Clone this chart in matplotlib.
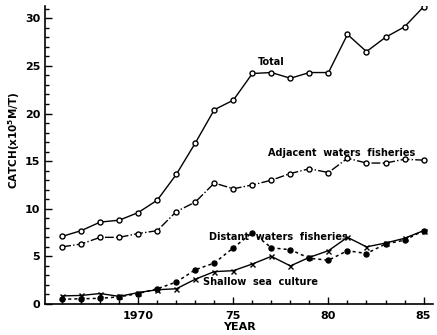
import matplotlib
matplotlib.use("Agg")
import matplotlib.pyplot as plt
from matplotlib.ticker import MultipleLocator

years = list(range(1966, 1986))

total = [7.1, 7.7, 8.6, 8.8, 9.6, 10.9, 13.6, 16.9, 20.4, 21.4, 24.2, 24.3,
         23.7, 24.3, 24.3, 28.3, 26.5, 28.0, 29.1, 31.2]
adjacent = [6.0, 6.3, 7.0, 7.0, 7.4, 7.7, 9.7, 10.7, 12.7, 12.1, 12.5, 13.0,
            13.7, 14.2, 13.8, 15.3, 14.8, 14.8, 15.2, 15.1]
distant = [0.5, 0.55, 0.6, 0.75, 1.1, 1.6, 2.3, 3.6, 4.3, 5.9, 7.5, 5.9,
           5.7, 4.8, 4.6, 5.6, 5.3, 6.3, 6.7, 7.7]
shallow = [0.85, 0.9, 1.1, 0.8, 1.2, 1.5, 1.6, 2.6, 3.4, 3.5, 4.2, 5.0,
           4.0, 4.9, 5.6, 7.0, 6.0, 6.4, 6.9, 7.7]

plt.rcParams['font.family'] = 'DejaVu Sans'
plt.rcParams['font.weight'] = 'bold'

fig = plt.figure(figsize=(4.37, 3.35), dpi=100)
ax = fig.add_axes([0.103, 0.0925, 0.888, 0.89])

ax.plot(years, total, '-', color='k', lw=1.0, marker='o', ms=3.6,
        mfc='white', mec='k', mew=1.0)
ax.plot(years, adjacent, '-.', color='k', lw=1.0, marker='o', ms=3.6,
        mfc='white', mec='k', mew=1.0)
ax.plot(years, distant, linestyle=(0, (2, 2)), color='k', lw=1.1, marker='o',
        ms=3.6, mfc='k', mec='k')
ax.plot(years, shallow, '-', color='k', lw=1.0, marker='x', ms=3.6, mew=1.0)

ax.text(1976.3, 25.4, 'Total', fontsize=7, fontweight='bold', va='center')
ax.text(1976.8, 15.9, 'Adjacent  waters  fisheries', fontsize=7,
        fontweight='bold', va='center')
ax.text(1973.7, 7.0, 'Distant  waters  fisheries', fontsize=7,
        fontweight='bold', va='center')
ax.text(1973.4, 2.3, 'Shallow  sea  culture', fontsize=7,
        fontweight='bold', va='center')

ax.set_xlim(1965.1, 1985.5)
ax.set_ylim(0, 31.3)
ax.set_xticks([1970, 1975, 1980, 1985])
ax.set_xticklabels(['1970', '75', '80', '85'])
ax.xaxis.set_minor_locator(MultipleLocator(1))
ax.yaxis.set_major_locator(MultipleLocator(5))
ax.yaxis.set_minor_locator(MultipleLocator(1))
ax.tick_params(which='both', direction='in', labelsize=8, width=1.0)
ax.tick_params(which='major', length=5)
ax.tick_params(which='minor', length=3)
ax.tick_params(axis='x', pad=5)

for s in ['top', 'right']:
    ax.spines[s].set_visible(False)
for s in ['left', 'bottom']:
    ax.spines[s].set_linewidth(1.2)

ax.set_xlabel('YEAR', fontsize=8, fontweight='bold', labelpad=1)
ax.set_ylabel('CATCH(x10$^5$M/T)', fontsize=7.5, fontweight='bold')
ax.yaxis.set_label_coords(-0.06, 0.55)

fig.savefig('out.png', dpi=100)
